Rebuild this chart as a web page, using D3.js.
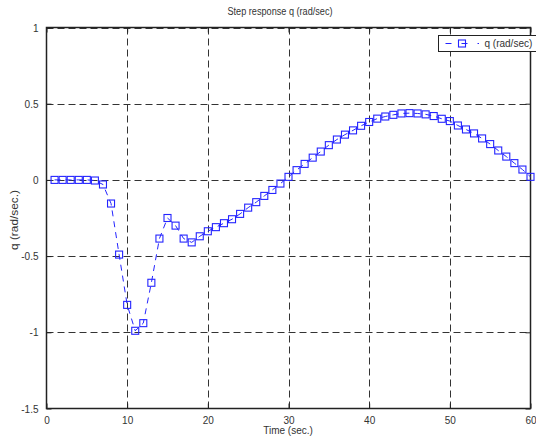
<!DOCTYPE html>
<html>
<head>
<meta charset="utf-8">
<script src="https://cdn.jsdelivr.net/npm/d3@7"></script>
<style>
  body { margin: 0; background: #fff; }
  svg { display: block; font-family: "Liberation Sans", Arial, sans-serif; }
</style>
</head>
<body>
<div class="canvas"></div>
<script>
// step response samples, one per second
const time = d3.range(1, 61);
const q = [
  0, 0, 0, 0, 0, -0.004, -0.03, -0.155, -0.49, -0.82,
  -0.99, -0.94, -0.675, -0.385, -0.25, -0.30, -0.385, -0.41, -0.37, -0.337,
  -0.31, -0.284, -0.258, -0.223, -0.182, -0.146, -0.105, -0.066, -0.024, 0.02,
  0.064, 0.105, 0.146, 0.186, 0.228, 0.265, 0.297, 0.325, 0.355, 0.38,
  0.402, 0.416, 0.427, 0.436, 0.438, 0.436, 0.43, 0.419, 0.401, 0.386,
  0.357, 0.331, 0.305, 0.272, 0.235, 0.193, 0.153, 0.11, 0.068, 0.02
];
const xTicks = [0, 10, 20, 30, 40, 50, 60];
const yTicks = [-1.5, -1, -0.5, 0, 0.5, 1];

const dims = { width: 536, height: 439 };
const box = { left: 46.5, right: 530.5, top: 27.5, bottom: 408.5 };

const svg = d3.select('.canvas')
    .append('svg')
    .attr('width', dims.width)
    .attr('height', dims.height);

const x = d3.scaleLinear().domain([0, 60]).range([box.left, box.right]);
const y = d3.scaleLinear().domain([-1.5, 1]).range([box.bottom, box.top]);

const ink = '#222';
const blue = '#2424ff';

// grid
const grid = svg.append('g')
    .attr('stroke', '#333')
    .attr('stroke-width', 1)
    .attr('stroke-dasharray', '7,4');

grid.selectAll('line.gx')
    .data(xTicks.slice(1, -1))
    .enter().append('line')
        .attr('class', 'gx')
        .attr('x1', d => Math.round(x(d)) + 0.5)
        .attr('x2', d => Math.round(x(d)) + 0.5)
        .attr('y1', box.top)
        .attr('y2', box.bottom);

grid.selectAll('line.gy')
    .data(yTicks.slice(1))
    .enter().append('line')
        .attr('class', 'gy')
        .attr('x1', box.left)
        .attr('x2', box.right)
        .attr('y1', d => Math.round(y(d)) + 0.5)
        .attr('y2', d => Math.round(y(d)) + 0.5);

// axes with inward ticks on all four sides
const tickLen = 5;
const axisBottom = d3.axisBottom(x).tickValues(xTicks).tickSizeInner(-tickLen).tickSizeOuter(0).tickPadding(8);
const axisTop = d3.axisTop(x).tickValues(xTicks).tickSizeInner(-tickLen).tickSizeOuter(0).tickFormat('');
const axisLeft = d3.axisLeft(y).tickValues(yTicks).tickSizeInner(-tickLen).tickSizeOuter(0).tickPadding(8)
    .tickFormat(d => String(d));
const axisRight = d3.axisRight(y).tickValues(yTicks).tickSizeInner(-tickLen).tickSizeOuter(0).tickFormat('');

const styleAxis = g => {
    g.select('.domain').remove();
    g.selectAll('line').attr('stroke', ink);
    g.selectAll('text').attr('fill', '#333').attr('font-size', '10px')
        .attr('font-family', '"Liberation Sans", Arial, sans-serif');
};

svg.append('g').attr('transform', `translate(0, ${box.bottom})`).call(axisBottom).call(styleAxis);
svg.append('g').attr('transform', `translate(0, ${box.top})`).call(axisTop).call(styleAxis);
svg.append('g').attr('transform', `translate(${box.left}, 0)`).call(axisLeft).call(styleAxis)
    .selectAll('text').attr('dy', '0.35em');
svg.append('g').attr('transform', `translate(${box.right}, 0)`).call(axisRight).call(styleAxis);

// frame
svg.append('rect')
    .attr('x', box.left)
    .attr('y', box.top)
    .attr('width', box.right - box.left)
    .attr('height', box.bottom - box.top)
    .attr('fill', 'none')
    .attr('stroke', ink)
    .attr('stroke-width', 1.5);

// series
const data = time.map((t, i) => ({ t, v: q[i] }));

const line = d3.line()
    .x(d => x(d.t))
    .y(d => y(d.v));

svg.append('path')
    .datum(data)
    .attr('d', line)
    .attr('fill', 'none')
    .attr('stroke', blue)
    .attr('stroke-width', 1)
    .attr('stroke-dasharray', '6,5');

const mk = 7;
svg.append('g').selectAll('rect')
    .data(data)
    .enter().append('rect')
        .attr('x', d => x(d.t) - mk / 2)
        .attr('y', d => y(d.v) - mk / 2)
        .attr('width', mk)
        .attr('height', mk)
        .attr('fill', 'none')
        .attr('stroke', blue)
        .attr('stroke-width', 1.1);

// labels
svg.append('text')
    .attr('x', 280)
    .attr('y', 15)
    .attr('text-anchor', 'middle')
    .attr('font-size', '10px')
    .attr('textLength', 105)
    .attr('lengthAdjust', 'spacingAndGlyphs')
    .attr('fill', '#333')
    .text('Step response q (rad/sec)');

svg.append('text')
    .attr('x', 288)
    .attr('y', 434)
    .attr('text-anchor', 'middle')
    .attr('font-size', '10px')
    .attr('fill', '#333')
    .text('Time (sec.)');

svg.append('text')
    .attr('transform', 'translate(18, 220) rotate(-90)')
    .attr('text-anchor', 'middle')
    .attr('font-size', '10px')
    .attr('textLength', 60)
    .attr('lengthAdjust', 'spacingAndGlyphs')
    .attr('fill', '#333')
    .text('q (rad/sec.)');

// legend
const legend = svg.append('g').attr('transform', 'translate(438.5, 35.5)');

legend.append('rect')
    .attr('width', 100)
    .attr('height', 16)
    .attr('fill', '#fff')
    .attr('stroke', ink)
    .attr('stroke-width', 1);

legend.append('line')
    .attr('x1', 7).attr('x2', 40.5)
    .attr('y1', 8).attr('y2', 8)
    .attr('stroke', blue)
    .attr('stroke-dasharray', '6,10');

legend.append('rect')
    .attr('x', 23.5 - mk / 2)
    .attr('y', 8 - mk / 2)
    .attr('width', mk)
    .attr('height', mk)
    .attr('fill', 'none')
    .attr('stroke', blue)
    .attr('stroke-width', 1.1);

legend.append('text')
    .attr('x', 46)
    .attr('y', 11.5)
    .attr('font-size', '10px')
    .attr('fill', '#333')
    .text('q (rad/sec)');
</script>
</body>
</html>
